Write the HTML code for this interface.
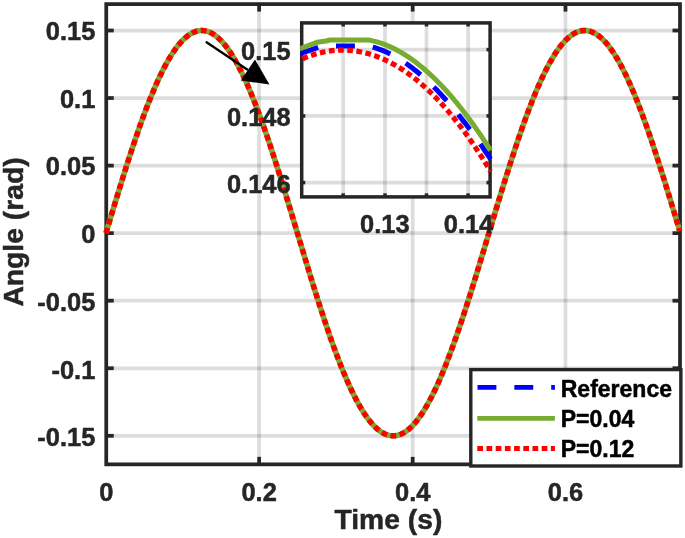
<!DOCTYPE html>
<html><head><meta charset="utf-8"><title>Angle vs Time</title>
<style>html,body{margin:0;padding:0;background:#fff;}body{width:685px;height:538px;overflow:hidden;}svg{display:block;}</style>
</head><body>
<svg width="685" height="538" viewBox="0 0 685 538" font-family="'Liberation Sans', Arial, Helvetica, sans-serif" font-weight="bold">
<rect width="685" height="538" fill="#ffffff"/>
<g stroke="rgba(0,0,0,0.135)" stroke-width="3.75" fill="none">
<line x1="106.25" y1="30.50" x2="680.0" y2="30.50"/>
<line x1="106.25" y1="98.05" x2="680.0" y2="98.05"/>
<line x1="106.25" y1="165.60" x2="680.0" y2="165.60"/>
<line x1="106.25" y1="233.15" x2="680.0" y2="233.15"/>
<line x1="106.25" y1="300.70" x2="680.0" y2="300.70"/>
<line x1="106.25" y1="368.25" x2="680.0" y2="368.25"/>
<line x1="106.25" y1="435.80" x2="680.0" y2="435.80"/>
<line x1="259.12" y1="4.1" x2="259.12" y2="464.35"/>
<line x1="412.68" y1="4.1" x2="412.68" y2="464.35"/>
<line x1="565.47" y1="4.1" x2="565.47" y2="464.35"/>
</g>
<g stroke="#262626" stroke-width="3.75" fill="none">
<rect x="106.25" y="4.1" width="573.75" height="460.25"/>
<line x1="106.25" y1="30.50" x2="113.75" y2="30.50"/>
<line x1="680.0" y1="30.50" x2="672.5" y2="30.50"/>
<line x1="106.25" y1="98.05" x2="113.75" y2="98.05"/>
<line x1="680.0" y1="98.05" x2="672.5" y2="98.05"/>
<line x1="106.25" y1="165.60" x2="113.75" y2="165.60"/>
<line x1="680.0" y1="165.60" x2="672.5" y2="165.60"/>
<line x1="106.25" y1="233.15" x2="113.75" y2="233.15"/>
<line x1="680.0" y1="233.15" x2="672.5" y2="233.15"/>
<line x1="106.25" y1="300.70" x2="113.75" y2="300.70"/>
<line x1="680.0" y1="300.70" x2="672.5" y2="300.70"/>
<line x1="106.25" y1="368.25" x2="113.75" y2="368.25"/>
<line x1="680.0" y1="368.25" x2="672.5" y2="368.25"/>
<line x1="106.25" y1="435.80" x2="113.75" y2="435.80"/>
<line x1="680.0" y1="435.80" x2="672.5" y2="435.80"/>
<line x1="259.12" y1="464.35" x2="259.12" y2="456.85"/>
<line x1="259.12" y1="4.1" x2="259.12" y2="11.6"/>
<line x1="412.68" y1="464.35" x2="412.68" y2="456.85"/>
<line x1="412.68" y1="4.1" x2="412.68" y2="11.6"/>
<line x1="565.47" y1="464.35" x2="565.47" y2="456.85"/>
<line x1="565.47" y1="4.1" x2="565.47" y2="11.6"/>
</g>
<g fill="none" stroke-width="5.5" stroke-linejoin="round">
<path d="M105.95,233.15 L107.39,228.37 L108.83,223.59 L110.26,218.82 L111.70,214.05 L113.14,209.30 L114.58,204.56 L116.02,199.83 L117.46,195.12 L118.89,190.44 L120.33,185.78 L121.77,181.14 L123.21,176.53 L124.65,171.96 L126.08,167.42 L127.52,162.91 L128.96,158.45 L130.40,154.02 L131.84,149.64 L133.27,145.31 L134.71,141.03 L136.15,136.79 L137.59,132.61 L139.03,128.49 L140.47,124.43 L141.90,120.42 L143.34,116.48 L144.78,112.60 L146.22,108.79 L147.66,105.05 L149.09,101.38 L150.53,97.79 L151.97,94.27 L153.41,90.82 L154.85,87.46 L156.28,84.18 L157.72,80.98 L159.16,77.86 L160.60,74.83 L162.04,71.89 L163.48,69.04 L164.91,66.28 L166.35,63.62 L167.79,61.04 L169.23,58.57 L170.67,56.19 L172.10,53.91 L173.54,51.73 L174.98,49.65 L176.42,47.67 L177.86,45.79 L179.29,44.02 L180.73,42.36 L182.17,40.80 L183.61,39.35 L185.05,38.01 L186.49,36.77 L187.92,35.65 L189.36,34.63 L190.80,33.73 L192.24,32.93 L193.68,32.25 L195.11,31.68 L196.55,31.22 L197.99,30.87 L199.43,30.64 L200.87,30.52 L202.30,30.51 L203.74,30.62 L205.18,30.83 L206.62,31.16 L208.06,31.61 L209.50,32.16 L210.93,32.83 L212.37,33.61 L213.81,34.49 L215.25,35.49 L216.69,36.60 L218.12,37.82 L219.56,39.15 L221.00,40.59 L222.44,42.13 L223.88,43.78 L225.31,45.54 L226.75,47.40 L228.19,49.36 L229.63,51.43 L231.07,53.59 L232.51,55.86 L233.94,58.22 L235.38,60.69 L236.82,63.24 L238.26,65.90 L239.70,68.64 L241.13,71.48 L242.57,74.41 L244.01,77.43 L245.45,80.53 L246.89,83.72 L248.32,86.99 L249.76,90.34 L251.20,93.77 L252.64,97.28 L254.08,100.87 L255.52,104.53 L256.95,108.26 L258.39,112.06 L259.83,115.92 L261.27,119.86 L262.71,123.85 L264.14,127.91 L265.58,132.03 L267.02,136.20 L268.46,140.42 L269.90,144.70 L271.33,149.03 L272.77,153.40 L274.21,157.82 L275.65,162.28 L277.09,166.78 L278.53,171.31 L279.96,175.88 L281.40,180.48 L282.84,185.12 L284.28,189.77 L285.72,194.46 L287.15,199.16 L288.59,203.88 L290.03,208.62 L291.47,213.38 L292.91,218.14 L294.34,222.91 L295.78,227.69 L297.22,232.47 L298.66,237.25 L300.10,242.03 L301.54,246.81 L302.97,251.57 L304.41,256.33 L305.85,261.07 L307.29,265.80 L308.73,270.51 L310.16,275.20 L311.60,279.86 L313.04,284.50 L314.48,289.11 L315.92,293.69 L317.35,298.24 L318.79,302.75 L320.23,307.22 L321.67,311.65 L323.11,316.04 L324.55,320.38 L325.98,324.67 L327.42,328.91 L328.86,333.10 L330.30,337.23 L331.74,341.30 L333.17,345.31 L334.61,349.26 L336.05,353.15 L337.49,356.97 L338.93,360.72 L340.36,364.40 L341.80,368.01 L343.24,371.54 L344.68,374.99 L346.12,378.37 L347.56,381.66 L348.99,384.87 L350.43,388.00 L351.87,391.04 L353.31,394.00 L354.75,396.86 L356.18,399.63 L357.62,402.31 L359.06,404.90 L360.50,407.39 L361.94,409.78 L363.37,412.07 L364.81,414.27 L366.25,416.36 L367.69,418.36 L369.13,420.25 L370.57,422.03 L372.00,423.71 L373.44,425.28 L374.88,426.75 L376.32,428.11 L377.76,429.36 L379.19,430.50 L380.63,431.53 L382.07,432.45 L383.51,433.26 L384.95,433.96 L386.38,434.55 L387.82,435.02 L389.26,435.38 L390.70,435.63 L392.14,435.77 L393.58,435.80 L395.01,435.71 L396.45,435.51 L397.89,435.19 L399.33,434.76 L400.77,434.23 L402.20,433.57 L403.64,432.81 L405.08,431.94 L406.52,430.95 L407.96,429.86 L409.39,428.66 L410.83,427.34 L412.27,425.92 L413.71,424.39 L415.15,422.76 L416.59,421.02 L418.02,419.17 L419.46,417.23 L420.90,415.17 L422.34,413.02 L423.78,410.77 L425.21,408.42 L426.65,405.97 L428.09,403.42 L429.53,400.78 L430.97,398.05 L432.40,395.23 L433.84,392.31 L435.28,389.31 L436.72,386.22 L438.16,383.04 L439.60,379.78 L441.03,376.44 L442.47,373.02 L443.91,369.52 L445.35,365.95 L446.79,362.30 L448.22,358.58 L449.66,354.79 L451.10,350.93 L452.54,347.00 L453.98,343.02 L455.41,338.97 L456.85,334.86 L458.29,330.70 L459.73,326.48 L461.17,322.21 L462.61,317.89 L464.04,313.52 L465.48,309.11 L466.92,304.66 L468.36,300.17 L469.80,295.64 L471.23,291.07 L472.67,286.47 L474.11,281.84 L475.55,277.19 L476.99,272.51 L478.42,267.81 L479.86,263.09 L481.30,258.35 L482.74,253.60 L484.18,248.84 L485.62,244.07 L487.05,239.29 L488.49,234.51 L489.93,229.73 L491.37,224.95 L492.81,220.17 L494.24,215.40 L495.68,210.65 L497.12,205.90 L498.56,201.17 L500.00,196.46 L501.43,191.77 L502.87,187.10 L504.31,182.45 L505.75,177.84 L507.19,173.25 L508.63,168.70 L510.06,164.19 L511.50,159.71 L512.94,155.28 L514.38,150.88 L515.82,146.54 L517.25,142.24 L518.69,137.99 L520.13,133.80 L521.57,129.66 L523.01,125.57 L524.44,121.55 L525.88,117.59 L527.32,113.70 L528.76,109.87 L530.20,106.11 L531.64,102.42 L533.07,98.80 L534.51,95.26 L535.95,91.79 L537.39,88.41 L538.83,85.10 L540.26,81.88 L541.70,78.74 L543.14,75.68 L544.58,72.72 L546.02,69.84 L547.45,67.06 L548.89,64.36 L550.33,61.76 L551.77,59.26 L553.21,56.85 L554.65,54.55 L556.08,52.34 L557.52,50.23 L558.96,48.22 L560.40,46.32 L561.84,44.52 L563.27,42.82 L564.71,41.23 L566.15,39.75 L567.59,38.38 L569.03,37.11 L570.46,35.95 L571.90,34.91 L573.34,33.97 L574.78,33.15 L576.22,32.43 L577.66,31.83 L579.09,31.34 L580.53,30.96 L581.97,30.69 L583.41,30.54 L584.85,30.50 L586.28,30.57 L587.72,30.76 L589.16,31.06 L590.60,31.47 L592.04,31.99 L593.47,32.63 L594.91,33.37 L596.35,34.23 L597.79,35.20 L599.23,36.28 L600.67,37.47 L602.10,38.76 L603.54,40.17 L604.98,41.68 L606.42,43.30 L607.86,45.03 L609.29,46.86 L610.73,48.79 L612.17,50.83 L613.61,52.97 L615.05,55.20 L616.48,57.54 L617.92,59.98 L619.36,62.51 L620.80,65.13 L622.24,67.85 L623.68,70.67 L625.11,73.57 L626.55,76.56 L627.99,79.64 L629.43,82.80 L630.87,86.05 L632.30,89.38 L633.74,92.79 L635.18,96.28 L636.62,99.84 L638.06,103.48 L639.49,107.19 L640.93,110.97 L642.37,114.82 L643.81,118.73 L645.25,122.71 L646.69,126.75 L648.12,130.85 L649.56,135.01 L651.00,139.22 L652.44,143.48 L653.88,147.79 L655.31,152.15 L656.75,156.56 L658.19,161.01 L659.63,165.49 L661.07,170.02 L662.50,174.58 L663.94,179.17 L665.38,183.80 L666.82,188.45 L668.26,193.12 L669.70,197.82 L671.13,202.54 L672.57,207.28 L674.01,212.02 L675.45,216.79 L676.89,221.56 L678.32,226.33 L679.76,231.11" stroke="#0000ff" stroke-width="4.3" stroke-dasharray="18.9 17.95"/>
<path d="M105.95,233.15 L107.39,228.37 L108.83,223.59 L110.26,218.82 L111.70,214.05 L113.14,209.30 L114.58,204.56 L116.02,199.83 L117.46,195.12 L118.89,190.44 L120.33,185.78 L121.77,181.14 L123.21,176.53 L124.65,171.96 L126.08,167.42 L127.52,162.91 L128.96,158.45 L130.40,154.02 L131.84,149.64 L133.27,145.31 L134.71,141.03 L136.15,136.79 L137.59,132.61 L139.03,128.49 L140.47,124.43 L141.90,120.42 L143.34,116.48 L144.78,112.60 L146.22,108.79 L147.66,105.05 L149.09,101.38 L150.53,97.79 L151.97,94.27 L153.41,90.82 L154.85,87.46 L156.28,84.18 L157.72,80.98 L159.16,77.86 L160.60,74.83 L162.04,71.89 L163.48,69.04 L164.91,66.28 L166.35,63.62 L167.79,61.04 L169.23,58.57 L170.67,56.19 L172.10,53.91 L173.54,51.73 L174.98,49.65 L176.42,47.67 L177.86,45.79 L179.29,44.02 L180.73,42.36 L182.17,40.80 L183.61,39.35 L185.05,38.01 L186.49,36.77 L187.92,35.65 L189.36,34.63 L190.80,33.73 L192.24,32.93 L193.68,32.25 L195.11,31.68 L196.55,31.22 L197.99,30.87 L199.43,30.64 L200.87,30.52 L202.30,30.51 L203.74,30.62 L205.18,30.83 L206.62,31.16 L208.06,31.61 L209.50,32.16 L210.93,32.83 L212.37,33.61 L213.81,34.49 L215.25,35.49 L216.69,36.60 L218.12,37.82 L219.56,39.15 L221.00,40.59 L222.44,42.13 L223.88,43.78 L225.31,45.54 L226.75,47.40 L228.19,49.36 L229.63,51.43 L231.07,53.59 L232.51,55.86 L233.94,58.22 L235.38,60.69 L236.82,63.24 L238.26,65.90 L239.70,68.64 L241.13,71.48 L242.57,74.41 L244.01,77.43 L245.45,80.53 L246.89,83.72 L248.32,86.99 L249.76,90.34 L251.20,93.77 L252.64,97.28 L254.08,100.87 L255.52,104.53 L256.95,108.26 L258.39,112.06 L259.83,115.92 L261.27,119.86 L262.71,123.85 L264.14,127.91 L265.58,132.03 L267.02,136.20 L268.46,140.42 L269.90,144.70 L271.33,149.03 L272.77,153.40 L274.21,157.82 L275.65,162.28 L277.09,166.78 L278.53,171.31 L279.96,175.88 L281.40,180.48 L282.84,185.12 L284.28,189.77 L285.72,194.46 L287.15,199.16 L288.59,203.88 L290.03,208.62 L291.47,213.38 L292.91,218.14 L294.34,222.91 L295.78,227.69 L297.22,232.47 L298.66,237.25 L300.10,242.03 L301.54,246.81 L302.97,251.57 L304.41,256.33 L305.85,261.07 L307.29,265.80 L308.73,270.51 L310.16,275.20 L311.60,279.86 L313.04,284.50 L314.48,289.11 L315.92,293.69 L317.35,298.24 L318.79,302.75 L320.23,307.22 L321.67,311.65 L323.11,316.04 L324.55,320.38 L325.98,324.67 L327.42,328.91 L328.86,333.10 L330.30,337.23 L331.74,341.30 L333.17,345.31 L334.61,349.26 L336.05,353.15 L337.49,356.97 L338.93,360.72 L340.36,364.40 L341.80,368.01 L343.24,371.54 L344.68,374.99 L346.12,378.37 L347.56,381.66 L348.99,384.87 L350.43,388.00 L351.87,391.04 L353.31,394.00 L354.75,396.86 L356.18,399.63 L357.62,402.31 L359.06,404.90 L360.50,407.39 L361.94,409.78 L363.37,412.07 L364.81,414.27 L366.25,416.36 L367.69,418.36 L369.13,420.25 L370.57,422.03 L372.00,423.71 L373.44,425.28 L374.88,426.75 L376.32,428.11 L377.76,429.36 L379.19,430.50 L380.63,431.53 L382.07,432.45 L383.51,433.26 L384.95,433.96 L386.38,434.55 L387.82,435.02 L389.26,435.38 L390.70,435.63 L392.14,435.77 L393.58,435.80 L395.01,435.71 L396.45,435.51 L397.89,435.19 L399.33,434.76 L400.77,434.23 L402.20,433.57 L403.64,432.81 L405.08,431.94 L406.52,430.95 L407.96,429.86 L409.39,428.66 L410.83,427.34 L412.27,425.92 L413.71,424.39 L415.15,422.76 L416.59,421.02 L418.02,419.17 L419.46,417.23 L420.90,415.17 L422.34,413.02 L423.78,410.77 L425.21,408.42 L426.65,405.97 L428.09,403.42 L429.53,400.78 L430.97,398.05 L432.40,395.23 L433.84,392.31 L435.28,389.31 L436.72,386.22 L438.16,383.04 L439.60,379.78 L441.03,376.44 L442.47,373.02 L443.91,369.52 L445.35,365.95 L446.79,362.30 L448.22,358.58 L449.66,354.79 L451.10,350.93 L452.54,347.00 L453.98,343.02 L455.41,338.97 L456.85,334.86 L458.29,330.70 L459.73,326.48 L461.17,322.21 L462.61,317.89 L464.04,313.52 L465.48,309.11 L466.92,304.66 L468.36,300.17 L469.80,295.64 L471.23,291.07 L472.67,286.47 L474.11,281.84 L475.55,277.19 L476.99,272.51 L478.42,267.81 L479.86,263.09 L481.30,258.35 L482.74,253.60 L484.18,248.84 L485.62,244.07 L487.05,239.29 L488.49,234.51 L489.93,229.73 L491.37,224.95 L492.81,220.17 L494.24,215.40 L495.68,210.65 L497.12,205.90 L498.56,201.17 L500.00,196.46 L501.43,191.77 L502.87,187.10 L504.31,182.45 L505.75,177.84 L507.19,173.25 L508.63,168.70 L510.06,164.19 L511.50,159.71 L512.94,155.28 L514.38,150.88 L515.82,146.54 L517.25,142.24 L518.69,137.99 L520.13,133.80 L521.57,129.66 L523.01,125.57 L524.44,121.55 L525.88,117.59 L527.32,113.70 L528.76,109.87 L530.20,106.11 L531.64,102.42 L533.07,98.80 L534.51,95.26 L535.95,91.79 L537.39,88.41 L538.83,85.10 L540.26,81.88 L541.70,78.74 L543.14,75.68 L544.58,72.72 L546.02,69.84 L547.45,67.06 L548.89,64.36 L550.33,61.76 L551.77,59.26 L553.21,56.85 L554.65,54.55 L556.08,52.34 L557.52,50.23 L558.96,48.22 L560.40,46.32 L561.84,44.52 L563.27,42.82 L564.71,41.23 L566.15,39.75 L567.59,38.38 L569.03,37.11 L570.46,35.95 L571.90,34.91 L573.34,33.97 L574.78,33.15 L576.22,32.43 L577.66,31.83 L579.09,31.34 L580.53,30.96 L581.97,30.69 L583.41,30.54 L584.85,30.50 L586.28,30.57 L587.72,30.76 L589.16,31.06 L590.60,31.47 L592.04,31.99 L593.47,32.63 L594.91,33.37 L596.35,34.23 L597.79,35.20 L599.23,36.28 L600.67,37.47 L602.10,38.76 L603.54,40.17 L604.98,41.68 L606.42,43.30 L607.86,45.03 L609.29,46.86 L610.73,48.79 L612.17,50.83 L613.61,52.97 L615.05,55.20 L616.48,57.54 L617.92,59.98 L619.36,62.51 L620.80,65.13 L622.24,67.85 L623.68,70.67 L625.11,73.57 L626.55,76.56 L627.99,79.64 L629.43,82.80 L630.87,86.05 L632.30,89.38 L633.74,92.79 L635.18,96.28 L636.62,99.84 L638.06,103.48 L639.49,107.19 L640.93,110.97 L642.37,114.82 L643.81,118.73 L645.25,122.71 L646.69,126.75 L648.12,130.85 L649.56,135.01 L651.00,139.22 L652.44,143.48 L653.88,147.79 L655.31,152.15 L656.75,156.56 L658.19,161.01 L659.63,165.49 L661.07,170.02 L662.50,174.58 L663.94,179.17 L665.38,183.80 L666.82,188.45 L668.26,193.12 L669.70,197.82 L671.13,202.54 L672.57,207.28 L674.01,212.02 L675.45,216.79 L676.89,221.56 L678.32,226.33 L679.76,231.11" stroke="#77ac30"/>
<path d="M105.95,233.15 L107.39,228.37 L108.83,223.59 L110.26,218.82 L111.70,214.05 L113.14,209.30 L114.58,204.56 L116.02,199.83 L117.46,195.12 L118.89,190.44 L120.33,185.78 L121.77,181.14 L123.21,176.53 L124.65,171.96 L126.08,167.42 L127.52,162.91 L128.96,158.45 L130.40,154.02 L131.84,149.64 L133.27,145.31 L134.71,141.03 L136.15,136.79 L137.59,132.61 L139.03,128.49 L140.47,124.43 L141.90,120.42 L143.34,116.48 L144.78,112.60 L146.22,108.79 L147.66,105.05 L149.09,101.38 L150.53,97.79 L151.97,94.27 L153.41,90.82 L154.85,87.46 L156.28,84.18 L157.72,80.98 L159.16,77.86 L160.60,74.83 L162.04,71.89 L163.48,69.04 L164.91,66.28 L166.35,63.62 L167.79,61.04 L169.23,58.57 L170.67,56.19 L172.10,53.91 L173.54,51.73 L174.98,49.65 L176.42,47.67 L177.86,45.79 L179.29,44.02 L180.73,42.36 L182.17,40.80 L183.61,39.35 L185.05,38.01 L186.49,36.77 L187.92,35.65 L189.36,34.63 L190.80,33.73 L192.24,32.93 L193.68,32.25 L195.11,31.68 L196.55,31.22 L197.99,30.87 L199.43,30.64 L200.87,30.52 L202.30,30.51 L203.74,30.62 L205.18,30.83 L206.62,31.16 L208.06,31.61 L209.50,32.16 L210.93,32.83 L212.37,33.61 L213.81,34.49 L215.25,35.49 L216.69,36.60 L218.12,37.82 L219.56,39.15 L221.00,40.59 L222.44,42.13 L223.88,43.78 L225.31,45.54 L226.75,47.40 L228.19,49.36 L229.63,51.43 L231.07,53.59 L232.51,55.86 L233.94,58.22 L235.38,60.69 L236.82,63.24 L238.26,65.90 L239.70,68.64 L241.13,71.48 L242.57,74.41 L244.01,77.43 L245.45,80.53 L246.89,83.72 L248.32,86.99 L249.76,90.34 L251.20,93.77 L252.64,97.28 L254.08,100.87 L255.52,104.53 L256.95,108.26 L258.39,112.06 L259.83,115.92 L261.27,119.86 L262.71,123.85 L264.14,127.91 L265.58,132.03 L267.02,136.20 L268.46,140.42 L269.90,144.70 L271.33,149.03 L272.77,153.40 L274.21,157.82 L275.65,162.28 L277.09,166.78 L278.53,171.31 L279.96,175.88 L281.40,180.48 L282.84,185.12 L284.28,189.77 L285.72,194.46 L287.15,199.16 L288.59,203.88 L290.03,208.62 L291.47,213.38 L292.91,218.14 L294.34,222.91 L295.78,227.69 L297.22,232.47 L298.66,237.25 L300.10,242.03 L301.54,246.81 L302.97,251.57 L304.41,256.33 L305.85,261.07 L307.29,265.80 L308.73,270.51 L310.16,275.20 L311.60,279.86 L313.04,284.50 L314.48,289.11 L315.92,293.69 L317.35,298.24 L318.79,302.75 L320.23,307.22 L321.67,311.65 L323.11,316.04 L324.55,320.38 L325.98,324.67 L327.42,328.91 L328.86,333.10 L330.30,337.23 L331.74,341.30 L333.17,345.31 L334.61,349.26 L336.05,353.15 L337.49,356.97 L338.93,360.72 L340.36,364.40 L341.80,368.01 L343.24,371.54 L344.68,374.99 L346.12,378.37 L347.56,381.66 L348.99,384.87 L350.43,388.00 L351.87,391.04 L353.31,394.00 L354.75,396.86 L356.18,399.63 L357.62,402.31 L359.06,404.90 L360.50,407.39 L361.94,409.78 L363.37,412.07 L364.81,414.27 L366.25,416.36 L367.69,418.36 L369.13,420.25 L370.57,422.03 L372.00,423.71 L373.44,425.28 L374.88,426.75 L376.32,428.11 L377.76,429.36 L379.19,430.50 L380.63,431.53 L382.07,432.45 L383.51,433.26 L384.95,433.96 L386.38,434.55 L387.82,435.02 L389.26,435.38 L390.70,435.63 L392.14,435.77 L393.58,435.80 L395.01,435.71 L396.45,435.51 L397.89,435.19 L399.33,434.76 L400.77,434.23 L402.20,433.57 L403.64,432.81 L405.08,431.94 L406.52,430.95 L407.96,429.86 L409.39,428.66 L410.83,427.34 L412.27,425.92 L413.71,424.39 L415.15,422.76 L416.59,421.02 L418.02,419.17 L419.46,417.23 L420.90,415.17 L422.34,413.02 L423.78,410.77 L425.21,408.42 L426.65,405.97 L428.09,403.42 L429.53,400.78 L430.97,398.05 L432.40,395.23 L433.84,392.31 L435.28,389.31 L436.72,386.22 L438.16,383.04 L439.60,379.78 L441.03,376.44 L442.47,373.02 L443.91,369.52 L445.35,365.95 L446.79,362.30 L448.22,358.58 L449.66,354.79 L451.10,350.93 L452.54,347.00 L453.98,343.02 L455.41,338.97 L456.85,334.86 L458.29,330.70 L459.73,326.48 L461.17,322.21 L462.61,317.89 L464.04,313.52 L465.48,309.11 L466.92,304.66 L468.36,300.17 L469.80,295.64 L471.23,291.07 L472.67,286.47 L474.11,281.84 L475.55,277.19 L476.99,272.51 L478.42,267.81 L479.86,263.09 L481.30,258.35 L482.74,253.60 L484.18,248.84 L485.62,244.07 L487.05,239.29 L488.49,234.51 L489.93,229.73 L491.37,224.95 L492.81,220.17 L494.24,215.40 L495.68,210.65 L497.12,205.90 L498.56,201.17 L500.00,196.46 L501.43,191.77 L502.87,187.10 L504.31,182.45 L505.75,177.84 L507.19,173.25 L508.63,168.70 L510.06,164.19 L511.50,159.71 L512.94,155.28 L514.38,150.88 L515.82,146.54 L517.25,142.24 L518.69,137.99 L520.13,133.80 L521.57,129.66 L523.01,125.57 L524.44,121.55 L525.88,117.59 L527.32,113.70 L528.76,109.87 L530.20,106.11 L531.64,102.42 L533.07,98.80 L534.51,95.26 L535.95,91.79 L537.39,88.41 L538.83,85.10 L540.26,81.88 L541.70,78.74 L543.14,75.68 L544.58,72.72 L546.02,69.84 L547.45,67.06 L548.89,64.36 L550.33,61.76 L551.77,59.26 L553.21,56.85 L554.65,54.55 L556.08,52.34 L557.52,50.23 L558.96,48.22 L560.40,46.32 L561.84,44.52 L563.27,42.82 L564.71,41.23 L566.15,39.75 L567.59,38.38 L569.03,37.11 L570.46,35.95 L571.90,34.91 L573.34,33.97 L574.78,33.15 L576.22,32.43 L577.66,31.83 L579.09,31.34 L580.53,30.96 L581.97,30.69 L583.41,30.54 L584.85,30.50 L586.28,30.57 L587.72,30.76 L589.16,31.06 L590.60,31.47 L592.04,31.99 L593.47,32.63 L594.91,33.37 L596.35,34.23 L597.79,35.20 L599.23,36.28 L600.67,37.47 L602.10,38.76 L603.54,40.17 L604.98,41.68 L606.42,43.30 L607.86,45.03 L609.29,46.86 L610.73,48.79 L612.17,50.83 L613.61,52.97 L615.05,55.20 L616.48,57.54 L617.92,59.98 L619.36,62.51 L620.80,65.13 L622.24,67.85 L623.68,70.67 L625.11,73.57 L626.55,76.56 L627.99,79.64 L629.43,82.80 L630.87,86.05 L632.30,89.38 L633.74,92.79 L635.18,96.28 L636.62,99.84 L638.06,103.48 L639.49,107.19 L640.93,110.97 L642.37,114.82 L643.81,118.73 L645.25,122.71 L646.69,126.75 L648.12,130.85 L649.56,135.01 L651.00,139.22 L652.44,143.48 L653.88,147.79 L655.31,152.15 L656.75,156.56 L658.19,161.01 L659.63,165.49 L661.07,170.02 L662.50,174.58 L663.94,179.17 L665.38,183.80 L666.82,188.45 L668.26,193.12 L669.70,197.82 L671.13,202.54 L672.57,207.28 L674.01,212.02 L675.45,216.79 L676.89,221.56 L678.32,226.33 L679.76,231.11" stroke="#ff0000" stroke-dasharray="5.7 3.495"/>
</g>
<g fill="#262626" font-size="25.45" stroke="#262626" stroke-width="0.5" stroke-linejoin="round">
<g text-anchor="end">
<text x="95.3" y="39.85">0.15</text>
<text x="95.3" y="107.58">0.1</text>
<text x="95.3" y="175.31">0.05</text>
<text x="95.3" y="243.04">0</text>
<text x="95.3" y="310.77">-0.05</text>
<text x="95.3" y="378.50">-0.1</text>
<text x="95.3" y="446.23">-0.15</text>
</g>
<g text-anchor="middle">
<text x="106.25" y="501.2">0</text>
<text x="259.12" y="501.2">0.2</text>
<text x="412.68" y="501.2">0.4</text>
<text x="565.47" y="501.2">0.6</text>
</g>
</g>
<text x="388.4" y="528.6" font-size="28.25" fill="#262626" stroke="#262626" stroke-width="0.5" stroke-linejoin="round" text-anchor="middle">Time (s)</text>
<text transform="translate(23.3,232) rotate(-90)" font-size="28.25" fill="#262626" stroke="#262626" stroke-width="0.5" stroke-linejoin="round" text-anchor="middle">Angle (rad)</text>
<rect x="301.7" y="22.9" width="188.40" height="174.00" fill="#ffffff"/>
<g stroke="rgba(0,0,0,0.135)" stroke-width="3.75" fill="none">
<line x1="343.2" y1="22.9" x2="343.2" y2="196.9"/>
<line x1="385.0" y1="22.9" x2="385.0" y2="196.9"/>
<line x1="426.5" y1="22.9" x2="426.5" y2="196.9"/>
<line x1="468.1" y1="22.9" x2="468.1" y2="196.9"/>
<line x1="301.7" y1="49.6" x2="490.1" y2="49.6"/>
<line x1="301.7" y1="115.9" x2="490.1" y2="115.9"/>
<line x1="301.7" y1="182.6" x2="490.1" y2="182.6"/>
</g>
<g stroke="#262626" stroke-width="3.5" fill="none">
<rect x="301.7" y="22.9" width="188.40" height="174.00"/>
<line x1="343.2" y1="22.9" x2="343.2" y2="26.5"/>
<line x1="343.2" y1="196.9" x2="343.2" y2="193.3"/>
<line x1="385.0" y1="22.9" x2="385.0" y2="26.5"/>
<line x1="385.0" y1="196.9" x2="385.0" y2="193.3"/>
<line x1="426.5" y1="22.9" x2="426.5" y2="26.5"/>
<line x1="426.5" y1="196.9" x2="426.5" y2="193.3"/>
<line x1="468.1" y1="22.9" x2="468.1" y2="26.5"/>
<line x1="468.1" y1="196.9" x2="468.1" y2="193.3"/>
<line x1="301.7" y1="49.6" x2="305.3" y2="49.6"/>
<line x1="490.1" y1="49.6" x2="486.5" y2="49.6"/>
<line x1="301.7" y1="115.9" x2="305.3" y2="115.9"/>
<line x1="490.1" y1="115.9" x2="486.5" y2="115.9"/>
<line x1="301.7" y1="182.6" x2="305.3" y2="182.6"/>
<line x1="490.1" y1="182.6" x2="486.5" y2="182.6"/>
</g>
<clipPath id="ic"><rect x="300.15" y="22.9" width="195.90" height="174.00"/></clipPath>
<g fill="none" clip-path="url(#ic)" stroke-linejoin="round">
<path d="M296.00,54.95 L300.80,53.30 L318.90,47.20 L326.00,46.30 L330.00,46.00 L368.60,46.00 L370.67,46.50 L372.74,47.05 L374.80,47.66 L376.87,48.33 L378.94,49.05 L381.01,49.83 L383.07,50.66 L385.14,51.54 L387.21,52.48 L389.28,53.48 L391.35,54.52 L393.41,55.62 L395.48,56.77 L397.55,57.97 L399.62,59.22 L401.68,60.53 L403.75,61.88 L405.82,63.29 L407.89,64.74 L409.96,66.24 L412.02,67.80 L414.09,69.40 L416.16,71.05 L418.23,72.74 L420.29,74.49 L422.36,76.28 L424.43,78.12 L426.50,80.00 L428.57,81.93 L430.63,83.91 L432.70,85.93 L434.77,88.00 L436.84,90.11 L438.91,92.26 L440.97,94.46 L443.04,96.70 L445.11,98.98 L447.18,101.31 L449.24,103.68 L451.31,106.09 L453.38,108.54 L455.45,111.03 L457.52,113.56 L459.58,116.13 L461.65,118.74 L463.72,121.39 L465.79,124.08 L467.85,126.81 L469.92,129.58 L471.99,132.38 L474.06,135.22 L476.13,138.10 L478.19,141.01 L480.26,143.96 L482.33,146.95 L484.40,149.97 L486.46,153.02 L488.53,156.11 L490.60,159.24" stroke="#0000ff" stroke-width="5.0" stroke-dasharray="18.9 17.95" stroke-dashoffset="-4.5"/>
<path d="M296.00,50.20 L300.80,48.40 L317.00,42.30 L326.00,41.00 L330.00,40.00 L368.60,40.00 L370.67,40.40 L372.74,40.85 L374.80,41.35 L376.87,41.91 L378.94,42.52 L381.01,43.19 L383.07,43.91 L385.14,44.68 L387.21,45.51 L389.28,46.39 L391.35,47.32 L393.41,48.31 L395.48,49.35 L397.55,50.44 L399.62,51.58 L401.68,52.78 L403.75,54.02 L405.82,55.32 L407.89,56.67 L409.96,58.07 L412.02,59.52 L414.09,61.02 L416.16,62.57 L418.23,64.18 L420.29,65.83 L422.36,67.53 L424.43,69.28 L426.50,71.08 L428.57,72.93 L430.63,74.83 L432.70,76.78 L434.77,78.78 L436.84,80.82 L438.91,82.92 L440.97,85.06 L443.04,87.25 L445.11,89.48 L447.18,91.77 L449.24,94.10 L451.31,96.48 L453.38,98.90 L455.45,101.38 L457.52,103.90 L459.58,106.46 L461.65,109.07 L463.72,111.73 L465.79,114.43 L467.85,117.18 L469.92,119.97 L471.99,122.81 L474.06,125.69 L476.13,128.62 L478.19,131.59 L480.26,134.60 L482.33,137.66 L484.40,140.77 L486.46,143.91 L488.53,147.10 L490.60,150.34" stroke="#77ac30" stroke-width="5.0"/>
<path d="M296.00,61.84 L297.64,61.03 L299.27,60.24 L300.91,59.49 L302.54,58.76 L304.18,58.07 L305.81,57.40 L307.45,56.76 L309.08,56.16 L310.72,55.58 L312.35,55.03 L313.99,54.51 L315.62,54.02 L317.26,53.55 L318.89,53.12 L320.53,52.72 L322.16,52.34 L323.80,52.00 L325.44,51.68 L327.07,51.39 L328.71,51.13 L330.34,50.90 L331.98,50.70 L333.61,50.53 L335.25,50.39 L336.88,50.27 L338.52,50.19 L340.15,50.13 L341.79,50.10 L343.42,50.10 L345.06,50.14 L346.69,50.20 L348.33,50.28 L349.96,50.40 L351.60,50.55 L353.24,50.72 L354.87,50.93 L356.51,51.16 L358.14,51.43 L359.78,51.72 L361.41,52.04 L363.05,52.39 L364.68,52.77 L366.32,53.17 L367.95,53.61 L369.59,54.08 L371.22,54.57 L372.86,55.10 L374.49,55.65 L376.13,56.23 L377.76,56.85 L379.40,57.49 L381.04,58.16 L382.67,58.86 L384.31,59.58 L385.94,60.34 L387.58,61.13 L389.21,61.95 L390.85,62.79 L392.48,63.67 L394.12,64.57 L395.75,65.50 L397.39,66.47 L399.02,67.46 L400.66,68.48 L402.29,69.54 L403.93,70.62 L405.56,71.73 L407.20,72.87 L408.84,74.04 L410.47,75.24 L412.11,76.47 L413.74,77.73 L415.38,79.02 L417.01,80.34 L418.65,81.69 L420.28,83.06 L421.92,84.47 L423.55,85.91 L425.19,87.38 L426.82,88.88 L428.46,90.41 L430.09,91.97 L431.73,93.56 L433.36,95.18 L435.00,96.83 L436.64,98.51 L438.27,100.22 L439.91,101.96 L441.54,103.74 L443.18,105.54 L444.81,107.37 L446.45,109.24 L448.08,111.13 L449.72,113.06 L451.35,115.01 L452.99,117.00 L454.62,119.02 L456.26,121.07 L457.89,123.15 L459.53,125.26 L461.16,127.41 L462.80,129.58 L464.44,131.79 L466.07,134.02 L467.71,136.29 L469.34,138.59 L470.98,140.92 L472.61,143.29 L474.25,145.68 L475.88,148.11 L477.52,150.57 L479.15,153.06 L480.79,155.58 L482.42,158.14 L484.06,160.73 L485.69,163.35 L487.33,166.00 L488.96,168.68 L490.60,171.40" stroke="#ff0000" stroke-width="5.2" stroke-dasharray="5.7 3.495" stroke-dashoffset="2"/>
</g>
<g fill="#262626" font-size="25.45" stroke="#262626" stroke-width="0.5" stroke-linejoin="round">
<g text-anchor="end">
<text x="290.6" y="59.80">0.15</text>
<text x="290.6" y="126.10">0.148</text>
<text x="290.6" y="192.80">0.146</text>
</g><g text-anchor="middle">
<text x="384.8" y="233.3">0.13</text>
<text x="468.5" y="233.3">0.14</text>
</g></g>
<rect x="470.8" y="369.6" width="210.05" height="96.40" fill="#ffffff" stroke="#262626" stroke-width="3.4"/>
<g fill="none" stroke-width="5.5">
<line x1="477.5" y1="387.4" x2="554.9" y2="387.4" stroke="#0000ff" stroke-width="4.8" stroke-dasharray="18.9 17.95"/>
<line x1="477.3" y1="418.3" x2="554.9" y2="418.3" stroke="#77ac30" stroke-width="4.8"/>
<line x1="477.3" y1="448.5" x2="554.9" y2="448.5" stroke="#ff0000" stroke-width="5" stroke-dasharray="5.7 3.495"/>
</g>
<g fill="#000000" font-size="23.0" stroke="#000000" stroke-width="0.5" stroke-linejoin="round">
<text x="560.75" y="396.6">Reference</text>
<text x="560.75" y="426.9">P=0.04</text>
<text x="560.75" y="456.7">P=0.12</text>
</g>
<line x1="205.8" y1="41.8" x2="247.90" y2="70.02" stroke="#000" stroke-width="2.3"/>
<polygon points="269.50,84.50 240.86,80.53 254.95,59.52" fill="#000"/>
</svg>
</body></html>
